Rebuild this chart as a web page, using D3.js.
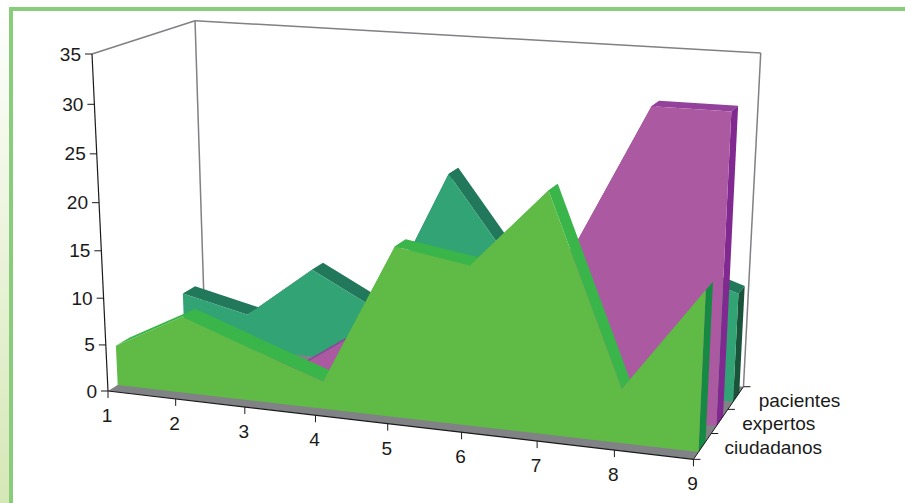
<!DOCTYPE html>
<html><head><meta charset="utf-8">
<script src="https://cdn.jsdelivr.net/npm/d3@7"></script>
<style>html,body{margin:0;padding:0;background:#fff}svg{display:block}text{font-family:"Liberation Sans",Arial,sans-serif;fill:#1a1a1a}</style>
</head><body><div id="chart"></div>
<script>
const categories = [1,2,3,4,5,6,7,8,9];
const yTicks = [0,5,10,15,20,25,30,35];
const seriesNames = ["ciudadanos","expertos","pacientes"];
const ciudadanos = [4.3,8.2,5.5,2.9,17.6,16.4,24.4,5.5,16.1];
const expertos   = [2,2,0.3,5.4,11,13,16.2,31.5,31.5];
const pacientes  = [5.7,4.0,9.8,5.9,21.5,11.6,12,14,11.5];
const seriesValues = [ciudadanos, expertos, pacientes];
const frontColors = ["#60bb46","#ab5aa2","#32a374"];
const stripColors = ["#39b54a","#93419a","#22785a"];
const sideColors  = ["#168a43","#812990","#18533a"];
const W=905,H=503;

const svg=d3.select("#chart").append("svg").attr("width",W).attr("height",H);

// projective map of the unit cube (t along categories, s up, z into depth)
function proj(t,s,z){
  const w=1-0.085*t-0.05*s+0.095*z;
  return [(108+526.5*t-20.6*s+116.4*z)/w,(391+29.3*t-339.7*s-29.7*z)/w];
}
const xS=d3.scalePoint().domain(categories).range([0,1]);
const yS=d3.scaleLinear().domain([0,35]).range([0,1]);
const zS=d3.scaleBand().domain(seriesNames).range([0,1]).paddingInner(0.61).paddingOuter(0.27);
const zTick=d3.scaleLinear().domain([0,seriesNames.length]).range([0,1]);
const poly=d3.line();
const face=(pts,fill,g)=>g.append("path").attr("d",poly(pts)+"Z").attr("fill",fill);
const seg=(a,b,col,sw,g)=>g.append("line").attr("x1",a[0]).attr("y1",a[1]).attr("x2",b[0]).attr("y2",b[1]).attr("stroke",col).attr("stroke-width",sw);
const stretch=1.09;
const label=(g,x,y,anchor,t)=>g.append("text")
  .attr("transform",`translate(${x},${y}) scale(${stretch},1)`)
  .attr("text-anchor",anchor).attr("font-size",17.5).text(t);

// page frame
const defs=svg.append("defs");
const grad=defs.append("linearGradient").attr("id","side").attr("x1",0).attr("x2",0).attr("y1",0).attr("y2",1);
grad.append("stop").attr("offset",0).attr("stop-color","#ffffff");
grad.append("stop").attr("offset",1).attr("stop-color","#d6e7b6");
svg.append("rect").attr("x",0).attr("y",0).attr("width",9).attr("height",H).attr("fill","url(#side)");
svg.append("rect").attr("x",9).attr("y",7).attr("width",W-9).attr("height",4).attr("fill","#88cc7c");
svg.append("rect").attr("x",9).attr("y",7).attr("width",4).attr("height",H-7).attr("fill","#88cc7c");

const g=svg.append("g");
// floor and walls
face([proj(0,0,0),proj(1,0,0),proj(1,0,1),proj(0,0,1)],"#808285",g);
const wall="#808085";
seg(proj(0,1,0),proj(0,1,1),wall,1.5,g);
seg(proj(0,0,1),proj(0,1,1),wall,1.5,g);
seg(proj(0,1,1),proj(1,1,1),wall,1.5,g);
seg(proj(1,1,1),proj(1,0,1),wall,1.5,g);

// series, back to front
for(let k=seriesNames.length-1;k>=0;k--){
  const vals=seriesValues[k], z0=zS(seriesNames[k]), z1=z0+zS.bandwidth();
  const sg=g.append("g");
  const top=vals.map((v,i)=>[xS(categories[i]),yS(v)]);
  top.forEach((p,i)=>{ if(i<top.length-1){
    const q=top[i+1];
    face([proj(p[0],p[1],z0),proj(q[0],q[1],z0),proj(q[0],q[1],z1),proj(p[0],p[1],z1)],stripColors[k],sg);
  }});
  const last=top[top.length-1];
  face([proj(1,0,z0),proj(1,last[1],z0),proj(1,last[1],z1),proj(1,0,z1)],sideColors[k],sg);
  face([proj(0,0,z0),...top.map(p=>proj(p[0],p[1],z0)),proj(1,0,z0)],frontColors[k],sg);
}

// axes
const ax=svg.append("g");
seg(proj(0,0,0),proj(0,1,0),"#1a1a1a",1.2,ax);
seg(proj(0,0,0),proj(1,0,0),"#1a1a1a",1.2,ax);
seg(proj(1,0,0),proj(1,0,1),"#1a1a1a",1,ax);
yTicks.forEach(v=>{
  const p=proj(0,yS(v),0);
  seg([p[0]-7,p[1]],p,"#1a1a1a",1,ax);
  label(ax,p[0]-11,p[1]+6.5,"end",v);
});
categories.forEach(c=>{
  const p=proj(xS(c),0,0);
  seg(p,[p[0],p[1]+7],"#1a1a1a",1,ax);
  label(ax,p[0]-1,p[1]+31,"middle",c);
});
d3.range(seriesNames.length+1).forEach(i=>{
  const p=proj(1,0,zTick(i));
  seg(p,[p[0]+7,p[1]],"#1a1a1a",1,ax);
});
seriesNames.forEach((n,i)=>{
  const p=proj(1,0,zS(n)+zS.bandwidth()/2);
  label(ax,p[0]+22.5,p[1]+7+i*1.5,"start",n);
});
</script></body></html>
